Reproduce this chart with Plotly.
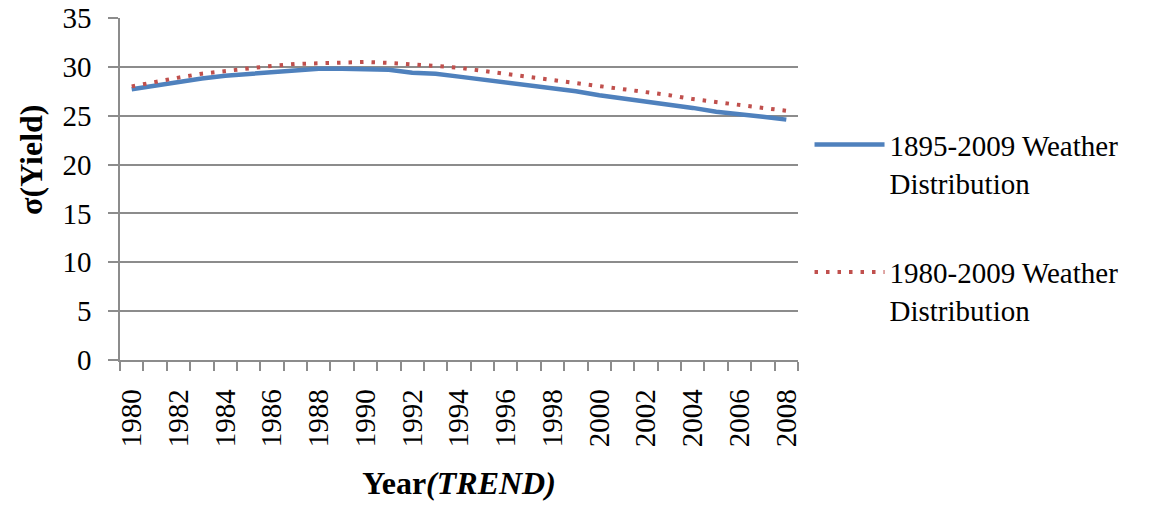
import plotly.graph_objects as go

years = list(range(1980, 2009))
tick_years = list(range(1980, 2009, 2))
tick_labels = [str(y) for y in tick_years]

sd_1895_2009 = [27.7, 28.1, 28.5, 28.8, 29.1, 29.3, 29.5, 29.7, 29.8, 29.8,
                29.7, 29.7, 29.4, 29.3, 29.0, 28.7, 28.5, 28.1, 27.8, 27.5,
                27.1, 26.8, 26.5, 26.2, 25.8, 25.4, 25.2, 24.9, 24.6]
sd_1980_2009 = [28.0, 28.5, 28.9, 29.3, 29.6, 29.9, 30.1, 30.3, 30.4, 30.5,
                30.5, 30.4, 30.3, 30.1, 29.9, 29.6, 29.3, 29.0, 28.7, 28.4,
                28.0, 27.7, 27.4, 27.1, 26.7, 26.4, 26.1, 25.8, 25.5]

name_a = "1895-2009 Weather<br>Distribution"
name_b = "1980-2009 Weather<br>Distribution"
y_title = "<b>σ(Yield)</b>"
x_title = "<b>Year<i>(TREND)</i></b>"

FONT = "Times New Roman"
GRID = "#8c8c8c"

fig = go.Figure()
fig.add_trace(go.Scatter(x=years, y=sd_1895_2009, mode="lines", name=name_a,
                         legendgroup="a",
                         line=dict(color="#4F81BD", width=4.5)))
fig.add_trace(go.Scatter(x=years, y=sd_1980_2009, mode="lines", name=name_b,
                         legendgroup="b",
                         line=dict(color="#C0504D", width=4, dash="3.5px,8px")))

fig.update_layout(
    width=1151, height=509,
    margin=dict(l=120, r=353, t=18, b=149, autoexpand=False),
    paper_bgcolor="white", plot_bgcolor="white",
    font=dict(family=FONT, size=29, color="black"),
    showlegend=True,
    legend=dict(x=1.017, y=0.704, xanchor="left", yanchor="top",
                font=dict(family=FONT, size=29, color="black"),
                itemwidth=70, valign="top", tracegroupgap=49,
                bgcolor="rgba(0,0,0,0)"),
)
# y-axis title placed as an annotation so it sits a little above the middle, as in the reference
fig.add_annotation(x=0, xref="paper", xanchor="center", xshift=-89,
                   y=0.585, yref="paper", yanchor="middle",
                   textangle=-90, showarrow=False, text=y_title,
                   font=dict(family=FONT, size=32, color="black"))
fig.update_xaxes(
    range=[1979.5, 2008.5], automargin=False,
    tickmode="array", tickvals=tick_years, ticktext=tick_labels,
    tickangle=-90, ticks="", showgrid=False, ticklabelstandoff=16,
    tickfont=dict(family=FONT, size=29, color="black"),
    showline=True, linecolor=GRID, linewidth=1.5,
    minor=dict(ticks="outside", tick0=1979.5, dtick=1, ticklen=9,
               tickcolor=GRID, tickwidth=1.5, showgrid=False),
    title=dict(text=x_title, standoff=25,
               font=dict(family=FONT, size=32, color="black")),
    zeroline=False,
)
fig.update_yaxes(
    range=[0, 35], dtick=5, tick0=0, automargin=False,
    ticks="outside", ticklen=10, tickcolor=GRID, tickwidth=1.5,
    ticklabelstandoff=11,
    showgrid=True, gridcolor=GRID, gridwidth=1.5,
    showline=True, linecolor=GRID, linewidth=1.5,
    tickfont=dict(family=FONT, size=29, color="black"),
    zeroline=False,
)

fig.write_html("out.html", config={"displayModeBar": False},
               post_script="document.body.style.margin='0';")
